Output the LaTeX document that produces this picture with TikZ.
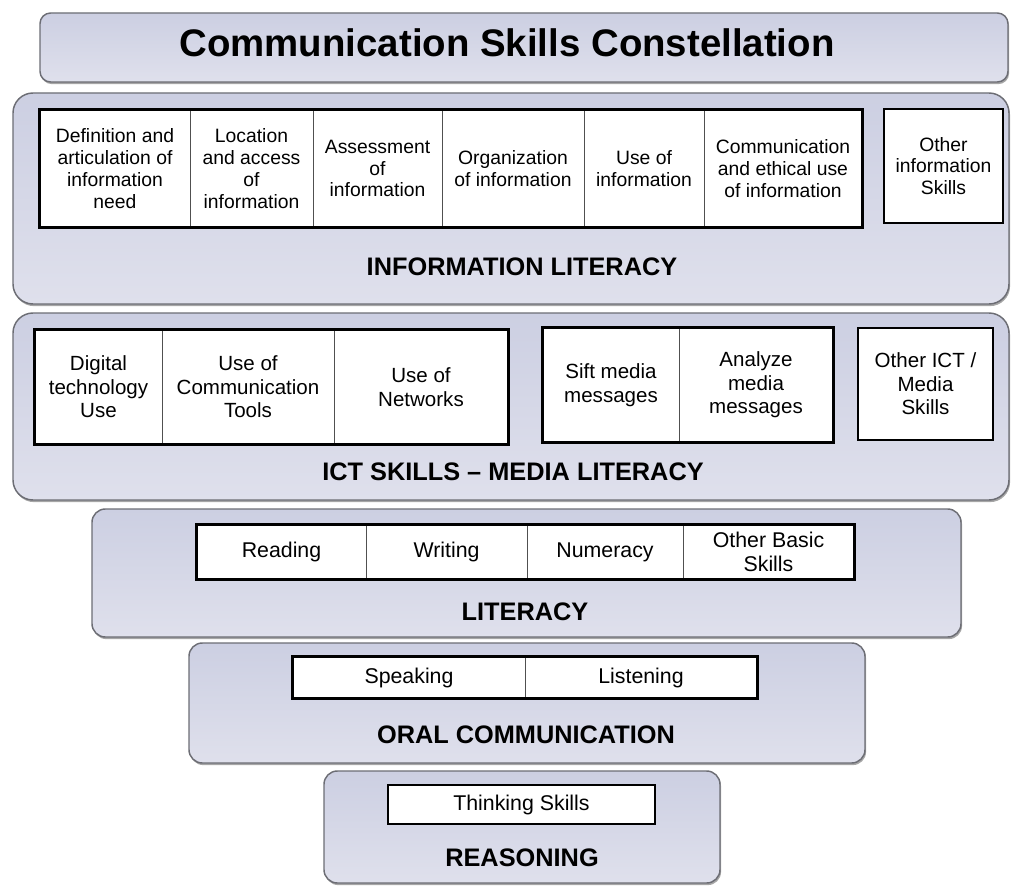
\documentclass[tikz,border=0pt]{standalone}
\usepackage{fontspec}
\setmainfont{Liberation Sans}
\usetikzlibrary{shadows}

\definecolor{bandtop}{HTML}{CCCFE2}
\definecolor{bandbot}{HTML}{DFE0EC}
\definecolor{bandline}{HTML}{6C6D74}
\definecolor{cellline}{HTML}{505050}

\begin{document}
\begin{tikzpicture}[x=0.75pt, y=-0.75pt,
  band/.style={draw=bandline, line width=1.1pt, top color=bandtop, bottom color=bandbot,
    drop shadow={shadow xshift=0.8pt, shadow yshift=-1.6pt, fill=black, opacity=0.35}},
  cell/.style={draw=cellline, line width=0.7pt, fill=white, inner sep=0pt, align=center},
  rowframe/.style={draw=black, line width=2pt},
  infotext/.style={font=\fontsize{14.5}{16.3}\selectfont},
  icttext/.style={font=\fontsize{15.4}{17.6}\selectfont},
  basetext/.style={font=\fontsize{16}{18}\selectfont},
  bandlabel/.style={font=\fontsize{19}{22}\selectfont\bfseries}]
  \useasboundingbox (0,0) rectangle (1011,892);

  \draw[band, rounded corners=8pt] (40,13) rectangle (1008,82);
  \node[font=\fontsize{28.8}{32}\selectfont\bfseries] (title) at (507,43) {Communication Skills Constellation};

  \draw[band, rounded corners=15pt] (13,93) rectangle (1009,304);
  \foreach \l/\r/\txt [count=\i] in {
    40/190/{Definition and\\articulation of\\information\\need},
    190/313/{Location\\and access\\of\\information},
    313/442/{Assessment\\of\\information},
    442/584/{Organization\\of information},
    584/704/{Use of\\information},
    704/862/{Communication\\and ethical use\\of information}}
    \node[cell, infotext, minimum width={(\r-\l)*0.75pt}, minimum height=87.75pt] (info\i) at ({(\l+\r)/2}, 168.5) {\txt};
  \draw[rowframe] (info1.north west) rectangle (info6.south east);
  \node[cell, rowframe, infotext, minimum width=89.25pt, minimum height=85.5pt] (info7) at (943.5,166) {Other\\information\\Skills};
  \node[bandlabel] (infolabel) at (522,267) {INFORMATION LITERACY};

  \draw[band, rounded corners=15pt] (13,313) rectangle (1009,500);
  \foreach \l/\r/\txt [count=\i] in {
    35/162/{Digital\\technology\\Use},
    162/334/{Use of\\Communication\\Tools},
    334/508/{Use of\\Networks}}
    \node[cell, icttext, minimum width={(\r-\l)*0.75pt}, minimum height=85.5pt] (ict\i) at ({(\l+\r)/2}, 387) {\txt};
  \draw[rowframe] (ict1.north west) rectangle (ict3.south east);
  \foreach \l/\r/\txt [count=\i] in {
    543/679/{Sift media\\messages},
    679/833/{Analyze\\media\\messages}}
    \node[cell, icttext, minimum width={(\r-\l)*0.75pt}, minimum height=85.5pt] (media\i) at ({(\l+\r)/2}, 385) {\txt};
  \draw[rowframe] (media1.north west) rectangle (media2.south east);
  \node[cell, rowframe, icttext, minimum width=101.25pt, minimum height=84pt] (ict4) at (925.5,384) {Other ICT /\\Media\\Skills};
  \node[bandlabel] (ictlabel) at (513,472) {ICT SKILLS -- MEDIA LITERACY};

  \draw[band, rounded corners=10pt] (92,509) rectangle (961,637);
  \foreach \l/\r/\txt [count=\i] in {
    197/366/{Reading},
    366/527/{Writing},
    527/683/{Numeracy},
    683/854/{Other Basic\\Skills}}
    \node[cell, basetext, minimum width={(\r-\l)*0.75pt}, minimum height=40.5pt] (lit\i) at ({(\l+\r)/2}, 552) {\txt};
  \draw[rowframe] (lit1.north west) rectangle (lit4.south east);
  \node[bandlabel] (litlabel) at (525,612) {LITERACY};

  \draw[band, rounded corners=10pt] (189,643) rectangle (865,763);
  \foreach \l/\r/\txt [count=\i] in {
    293/525/{Speaking},
    525/757/{Listening}}
    \node[cell, basetext, minimum width={(\r-\l)*0.75pt}, minimum height=30.75pt] (oral\i) at ({(\l+\r)/2}, 677.5) {\txt};
  \draw[rowframe] (oral1.north west) rectangle (oral2.south east);
  \node[bandlabel] (orallabel) at (526,735) {ORAL COMMUNICATION};

  \draw[band, rounded corners=10pt] (324,771) rectangle (720,883);
  \node[cell, rowframe, basetext, minimum width=200.25pt, minimum height=29.25pt] (think) at (521.5,804.5) {Thinking Skills};
  \node[bandlabel] (reaslabel) at (522,858) {REASONING};

\end{tikzpicture}
\end{document}
